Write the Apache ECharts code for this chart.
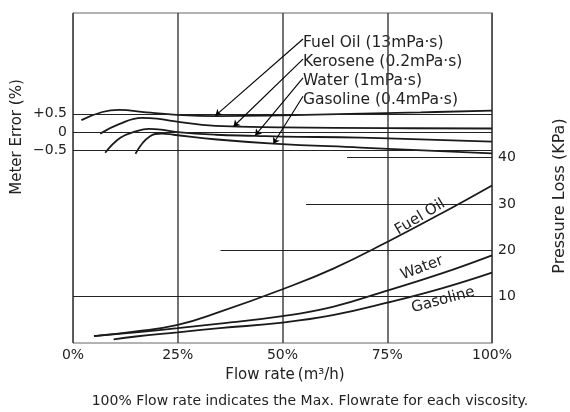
<!DOCTYPE html>
<html>
<head>
<meta charset="utf-8">
<title>Meter Error / Pressure Loss</title>
<script src="https://cdn.jsdelivr.net/npm/echarts@6/dist/echarts.min.js"></script>
<style>
  html, body { margin: 0; padding: 0; background: #fff; }
  #chart { width: 570px; height: 412px; }
</style>
</head>
<body>
<div id="chart"></div>
<script>
// flow rate (% of max) on x
const flowTicks = [0, 25, 50, 75, 100];
const errorTicks = [-0.5, 0, 0.5];
const pressureTicks = [10, 20, 30, 40];

// meter error (%) vs flow rate (%)
const fuelOilError = [[2, 0.33], [7, 0.55], [11, 0.61], [17.5, 0.54], [24, 0.48], [34, 0.44], [50, 0.46], [66, 0.5], [83, 0.54], [100, 0.59]];
const keroseneError = [[6.5, -0.04], [11, 0.22], [16.5, 0.39], [20, 0.37], [24, 0.3], [34, 0.17], [50, 0.13], [75, 0.11], [100, 0.1]];
const waterError = [[7.7, -0.56], [11.3, -0.15], [15, 0.02], [18, 0.09], [21, 0.07], [25, 0.0], [34, -0.07], [43.5, -0.1], [50, -0.12], [68.6, -0.15], [100, -0.26]];
const gasolineError = [[14.9, -0.59], [18.4, -0.11], [21.2, -0.04], [24, -0.07], [34.4, -0.2], [47.8, -0.31], [68.6, -0.42], [100, -0.58]];

// pressure loss (kPa) vs flow rate (%)
const fuelOilPressure = [[5, 1.5], [15, 2.5], [25, 3.9], [35, 6.7], [50, 11.6], [62, 16.0], [75, 21.8], [88, 28], [100, 34]];
const waterPressure = [[5, 1.5], [15, 2.3], [25, 3.2], [35, 4.2], [50, 5.8], [62, 7.8], [75, 11.3], [88, 15], [100, 18.9]];
const gasolinePressure = [[9.7, 0.8], [15, 1.4], [25, 2.3], [35, 3.2], [50, 4.4], [62, 6.0], [75, 8.7], [88, 11.8], [100, 15.2]];

// pressure guide lines start at these flow rates and run to 100%
const pressureGuides = [[10, 0], [20, 35.2], [30, 55.6], [40, 65.4]];

// leader lines from the viscosity notes down to each curve: [from, to]
const leaders = [
  [[54.9, 2.54], [34, 0.45]],
  [[54.9, 1.99], [38.3, 0.155]],
  [[54.9, 1.48], [43.5, -0.09]],
  [[54.9, 0.98], [47.8, -0.315]]
];
const notes = ['Fuel Oil (13mPa·s)', 'Kerosene (0.2mPa·s)', 'Water (1mPa·s)', 'Gasoline (0.4mPa·s)'];

const font = 'DejaVu Sans';
const ink = '#1a1a1a';

const chart = echarts.init(document.getElementById('chart'));

function curve(name, data, axis, extra) {
  return Object.assign({
    name: name,
    type: 'line',
    yAxisIndex: axis,
    data: data,
    smooth: 0.45,
    showSymbol: false,
    silent: true,
    lineStyle: { color: ink, width: 1.8 },
    z: 3
  }, extra || {});
}

const option = {
  animation: false,
  grid: {
    left: 73, right: 78, top: 13, bottom: 69,
    show: true, borderColor: '#666', borderWidth: 1
  },
  xAxis: {
    type: 'value', min: 0, max: 100, interval: 25,
    axisLine: { show: true, lineStyle: { color: '#555', width: 1 } },
    axisTick: { show: false },
    axisLabel: { formatter: '{value}%', fontFamily: font, fontSize: 14, color: '#222', margin: 5 },
    splitLine: { show: true, lineStyle: { color: '#444', width: 1.5 } }
  },
  yAxis: [
    {
      type: 'value', min: -5.75, max: 3.25, position: 'left',
      axisLine: { show: true, lineStyle: { color: '#555', width: 1 } },
      axisTick: { show: false },
      splitLine: { show: false },
      axisLabel: {
        customValues: errorTicks,
        fontFamily: font, fontSize: 14, color: '#222', margin: 6,
        formatter: function (v) { return v > 0 ? '+' + v : (v < 0 ? '\u2212' + Math.abs(v) : '0'); }
      }
    },
    {
      type: 'value', min: 0, max: 71.2, position: 'right',
      axisLine: { show: true, lineStyle: { color: '#555', width: 1 } },
      axisTick: { show: false },
      splitLine: { show: false },
      axisLabel: { customValues: pressureTicks, fontFamily: font, fontSize: 14, color: '#222', margin: 6 }
    }
  ],
  series: [
    curve('Fuel Oil error', fuelOilError, 0, {
      markLine: {
        silent: true, symbol: ['none', 'none'], label: { show: false },
        lineStyle: { color: '#222', width: 1.2, type: 'solid' },
        data: errorTicks.map(function (v) { return { yAxis: v }; })
      }
    }),
    curve('Kerosene error', keroseneError, 0, {
      markLine: {
        silent: true, symbol: ['none', 'arrow'], symbolSize: 6, label: { show: false },
        lineStyle: { color: '#000', width: 1.1, type: 'solid', opacity: 1 },
        data: leaders.map(function (l) { return [{ coord: l[0] }, { coord: l[1] }]; })
      }
    }),
    curve('Water error', waterError, 0),
    curve('Gasoline error', gasolineError, 0),
    curve('Fuel Oil pressure', fuelOilPressure, 1, {
      markLine: {
        silent: true, symbol: ['none', 'none'], label: { show: false },
        lineStyle: { color: '#222', width: 1.2, type: 'solid' },
        data: pressureGuides.map(function (g) { return [{ coord: [g[1], g[0]] }, { coord: [100, g[0]] }]; })
      }
    }),
    curve('Water pressure', waterPressure, 1),
    curve('Gasoline pressure', gasolinePressure, 1)
  ],
  graphic: [
    { type: 'text', x: 17, y: 137, rotation: Math.PI / 2,
      style: { text: 'Meter Error (%)', font: '15px "DejaVu Sans"', fill: '#222', align: 'center', verticalAlign: 'middle' } },
    { type: 'text', x: 560, y: 196, rotation: Math.PI / 2,
      style: { text: 'Pressure Loss (KPa)', font: '16px "DejaVu Sans"', fill: '#222', align: 'center', verticalAlign: 'middle' } },
    { type: 'text', x: 285, y: 375,
      style: { text: 'Flow rate\u2009(m³/h)', font: '15px "DejaVu Sans"', fill: '#222', align: 'center', verticalAlign: 'middle' } },
    { type: 'text', x: 310, y: 401,
      style: { text: '100% Flow rate indicates the Max. Flowrate for each viscosity.', font: '14px "DejaVu Sans"', fill: '#222', align: 'center', verticalAlign: 'middle' } },
    { type: 'text', x: 420, y: 217, rotation: 31 * Math.PI / 180,
      style: { text: 'Fuel Oil', font: '15px "DejaVu Sans"', fill: '#222', align: 'center', verticalAlign: 'middle' } },
    { type: 'text', x: 422, y: 268, rotation: 21 * Math.PI / 180,
      style: { text: 'Water', font: '15px "DejaVu Sans"', fill: '#222', align: 'center', verticalAlign: 'middle' } },
    { type: 'text', x: 443, y: 300, rotation: 15 * Math.PI / 180,
      style: { text: 'Gasoline', font: '15px "DejaVu Sans"', fill: '#222', align: 'center', verticalAlign: 'middle' } }
  ].concat(notes.map(function (t, i) {
    return { type: 'text', x: 303, y: 43 + i * 18.9,
      style: { text: t, font: '15.5px "DejaVu Sans"', fill: '#222', align: 'left', verticalAlign: 'middle' } };
  }))
};

chart.setOption(option);
</script>
</body>
</html>
